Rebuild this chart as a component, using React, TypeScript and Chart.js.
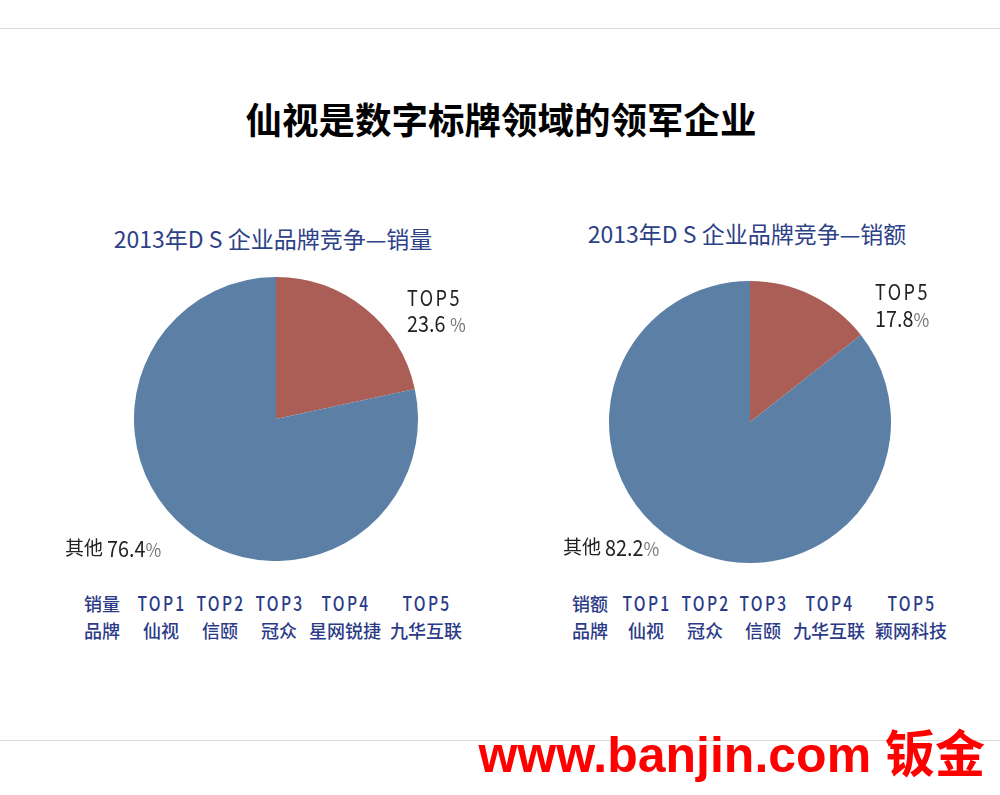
import React, { useEffect, useRef } from "react";
import { Chart, registerables } from "chart.js";

Chart.register(...registerables);

const pageTitle = "仙视是数字标牌领域的领军企业";
const chartTitles = ["2013年D S 企业品牌竞争—销量", "2013年D S 企业品牌竞争—销额"];
const sliceNames = ["TOP5", "其他"];
const volumeShares = [21.6, 78.4];
const revenueShares = [14.4, 85.6];
const volumeLabels = ["23.6 ", "76.4"];
const revenueLabels = ["17.8", "82.2"];
const rankHeaders = ["TOP1", "TOP2", "TOP3", "TOP4", "TOP5"];
const volumeBrands = ["仙视", "信颐", "冠众", "星网锐捷", "九华互联"];
const revenueBrands = ["仙视", "冠众", "信颐", "九华互联", "颖网科技"];
const sliceColors = ["#aa5e55", "#5c7fa6"];

const CJK = '"Noto Sans CJK SC", "Noto Sans", sans-serif';
const BLUE = "#2c3b88";

function Pie({ values, left, top, size }: { values: number[]; left: number; top: number; size: number }) {
  const ref = useRef<HTMLCanvasElement>(null);
  useEffect(() => {
    if (!ref.current) return;
    const chart = new Chart(ref.current, {
      type: "pie",
      data: {
        labels: sliceNames,
        datasets: [{ data: values, backgroundColor: sliceColors, borderWidth: 0 }],
      },
      options: {
        animation: false,
        responsive: false,
        maintainAspectRatio: false,
        layout: { padding: 0 },
        plugins: { legend: { display: false }, tooltip: { enabled: false } },
      },
    });
    return () => chart.destroy();
  }, []);
  return (
    <canvas
      ref={ref}
      width={size}
      height={size}
      style={{ position: "absolute", left, top, width: size, height: size }}
    />
  );
}

function Txt({ x, y, children, size = 18, color = "#222", center = false, weight = 400, family = CJK, spacing = 0, sx = 1 }: any) {
  return (
    <div
      style={{
        position: "absolute",
        left: center ? x - 400 : x,
        top: y,
        width: center ? 800 : undefined,
        textAlign: center ? "center" : "left",
        fontSize: size,
        lineHeight: `${size}px`,
        color,
        fontWeight: weight,
        fontFamily: family,
        letterSpacing: spacing,
        whiteSpace: "nowrap",
        transform: sx !== 1 ? `scaleX(${sx})` : undefined,
        transformOrigin: center ? "50% 50%" : "0 50%",
      }}
    >
      {children}
    </div>
  );
}

function Table({ head, brands, cols, firstX }: { head: string; brands: string[]; cols: number[]; firstX: number }) {
  return (
    <>
      <Txt x={firstX} y={594} size={18} color={BLUE} center weight={500}>{head}</Txt>
      <Txt x={firstX} y={621} size={18} color={BLUE} center weight={500}>品牌</Txt>
      {rankHeaders.map((h, i) => (
        <Txt key={h} x={cols[i] + 1} y={593} size={20} color={BLUE} center weight={500} spacing={3} sx={0.78}>{h}</Txt>
      ))}
      {brands.map((b, i) => (
        <Txt key={b} x={cols[i]} y={621} size={18} color={BLUE} center weight={500}>{b}</Txt>
      ))}
    </>
  );
}

function Pct({ x, y, name, value }: { x: number; y: number; name?: string; value: string }) {
  return (
    <div style={{ position: "absolute", left: x, top: y, whiteSpace: "nowrap", fontFamily: CJK, color: "#222", lineHeight: "22px" }}>
      {name ? <span style={{ fontSize: 19, verticalAlign: "top" }}>{name} </span> : null}
      <span style={{ display: "inline-block", fontSize: 22, transform: "scaleX(0.9)", transformOrigin: "0 50%", verticalAlign: "top" }}>
        {value}
        <span style={{ color: "#777", fontSize: 19 }}>%</span>
      </span>
    </div>
  );
}

export default function App() {
  return (
    <div style={{ position: "absolute", left: 0, top: 0, width: 1000, height: 795, background: "#fff", overflow: "hidden" }}>
      <div style={{ position: "absolute", left: 0, top: 28, width: 1000, height: 1, background: "#dcdcdc" }} />
      <div style={{ position: "absolute", left: 0, top: 740, width: 1000, height: 1, background: "#dcdcdc" }} />

      <Txt x={501} y={101} size={36.5} color="#000" center weight={700}>{pageTitle}</Txt>

      <Txt x={273} y={227} size={23} color="#2d4186" center>{chartTitles[0]}</Txt>
      <Txt x={747} y={222} size={23} color="#2d4186" center>{chartTitles[1]}</Txt>

      <Pie values={volumeShares} left={134} top={277} size={284} />
      <Pie values={revenueShares} left={609} top={281} size={282} />

      <Txt x={407} y={285} size={22} spacing={3} sx={0.82}>{sliceNames[0]}</Txt>
      <Pct x={407} y={311} value={volumeLabels[0]} />
      <Pct x={65} y={536} name={sliceNames[1]} value={volumeLabels[1]} />

      <Txt x={875} y={279} size={22} spacing={3} sx={0.82}>{sliceNames[0]}</Txt>
      <Pct x={875} y={306} value={revenueLabels[0]} />
      <Pct x={563} y={535} name={sliceNames[1]} value={revenueLabels[1]} />

      <Table head="销量" brands={volumeBrands} cols={[161, 220, 279, 345, 426]} firstX={102} />
      <Table head="销额" brands={revenueBrands} cols={[646, 705, 763, 829, 911]} firstX={590} />

      <div
        style={{
          position: "absolute",
          right: 15,
          top: 727,
          fontSize: 50,
          lineHeight: "56px",
          fontWeight: 700,
          color: "#ff0000",
          fontFamily: '"Liberation Sans", Arial, "Noto Sans CJK SC", sans-serif',
          whiteSpace: "nowrap",
        }}
      >
        www.banjin.com 钣金
      </div>
    </div>
  );
}
